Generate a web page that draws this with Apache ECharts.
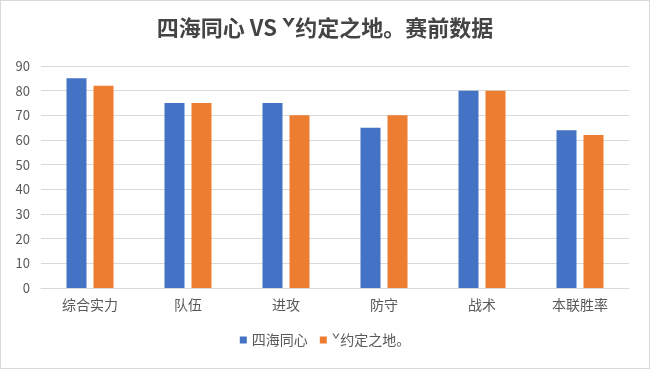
<!DOCTYPE html>
<html><head><meta charset="utf-8">
<script src="https://cdn.jsdelivr.net/npm/echarts@6/dist/echarts.min.js"></script>
<style>html,body{margin:0;padding:0;background:#fff}#c{width:650px;height:369px;box-sizing:border-box;border:1px solid #d9d9d9}</style>
</head><body><div id="c"></div>
<script>
const categories = ['综合实力','队伍','进攻','防守','战术','本联胜率'];
const seriesA = [85, 75, 75, 65, 80, 64];
const seriesB = [82, 75, 70, 70, 80, 62];
const nameA = '四海同心';
const nameB = 'ˇ约定之地。';
const titleText = '四海同心 VS ˇ约定之地。赛前数据';

const chart = echarts.init(document.getElementById('c'));
chart.setOption({
  animation: false,
  title: { text: titleText, left: 'center', top: 11,
    textStyle: { fontFamily: 'Noto Sans CJK SC', fontSize: 22, fontWeight: 'bold', color: '#444444' } },
  legend: { bottom: 16, left: 'center', itemWidth: 7, itemHeight: 7, itemGap: 12,
    icon: 'rect', textStyle: { fontFamily: 'Noto Sans CJK SC', fontSize: 14, color: '#595959' },
    data: [nameA, nameB] },
  grid: { left: 40, right: 20, top: 65, bottom: 80 },
  xAxis: { type: 'category', data: categories,
    axisLine: { lineStyle: { color: '#d9d9d9' } }, axisTick: { show: false },
    axisLabel: { fontFamily: 'Noto Sans CJK SC', fontSize: 14, color: '#595959', margin: 10 } },
  yAxis: { type: 'value', min: 0, max: 90, interval: 10,
    splitLine: { lineStyle: { color: '#d9d9d9' } },
    axisLine: { show: false }, axisTick: { show: false },
    axisLabel: { fontFamily: 'Noto Sans CJK SC', fontSize: 13, color: '#595959', margin: 11 } },
  series: [
    { name: nameA, type: 'bar', data: seriesA, barWidth: 20, barGap: '35%',
      itemStyle: { color: '#4472c4' } },
    { name: nameB, type: 'bar', data: seriesB, barWidth: 20,
      itemStyle: { color: '#ed7d31' } }
  ]
});
</script></body></html>
